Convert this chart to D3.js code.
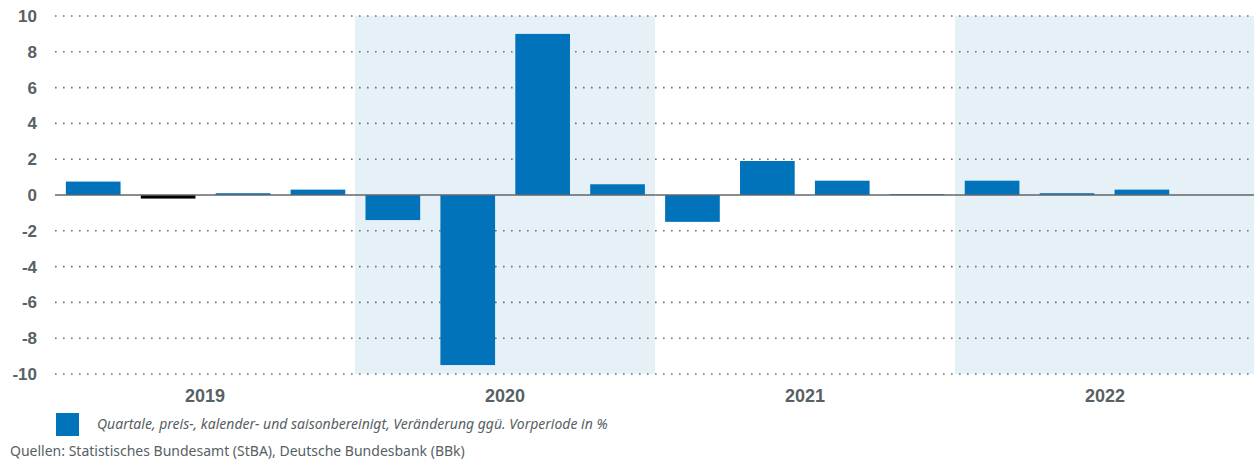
<!DOCTYPE html>
<html>
<head>
<meta charset="utf-8">
<script src="https://cdn.jsdelivr.net/npm/d3@7"></script>
<style>
  body { margin: 0; background: #fff; }
  svg { display: block; font-family: "Noto Sans", "Open Sans", sans-serif; }
</style>
</head>
<body>
<svg id="chart" width="1254" height="461"></svg>
<script>
// data
const years = ["2019", "2020", "2021", "2022"];
const quarters = ["Q1", "Q2", "Q3", "Q4"];
const values = [
  0.75, -0.2, 0.1, 0.3,
  -1.4, -9.5, 9.0, 0.6,
  -1.5, 1.9, 0.8, 0.05,
  0.8, 0.1, 0.3, null
];
const yTicks = [-10, -8, -6, -4, -2, 0, 2, 4, 6, 8, 10];
const shadedYears = ["2020", "2022"];
const highlightIndex = 1; // drawn in black
const legendLabel = "Quartale, preis-, kalender- und saisonbereinigt, Veränderung ggü. Vorperiode in %";
const sourceLabel = "Quellen: Statistisches Bundesamt (StBA), Deutsche Bundesbank (BBk)";

const blue = "#0073bb";
const grey = "#576064";

const svg = d3.select("#chart");
const plotLeft = 55, plotRight = 1255, plotTop = 16, plotBottom = 374;

const data = [];
years.forEach((yr, i) => quarters.forEach((q, j) => {
  data.push({ key: yr + q, year: yr, value: values[i * 4 + j], idx: i * 4 + j });
}));

const xYear = d3.scaleBand().domain(years).range([plotLeft, plotRight]);
const x = d3.scaleBand().domain(data.map(d => d.key)).range([plotLeft, plotRight]).paddingInner(0.27).paddingOuter(0.145);
const y = d3.scaleLinear().domain([-10, 10]).range([plotBottom, plotTop]);

// shaded years
svg.selectAll(".shade")
  .data(shadedYears)
  .enter()
  .append("rect")
  .attr("class", "shade")
  .attr("x", d => xYear(d))
  .attr("y", y(10))
  .attr("width", xYear.bandwidth())
  .attr("height", y(-10) - y(10))
  .style("fill", "#e5f0f7");

// dotted grid
svg.selectAll(".grid")
  .data(yTicks.filter(t => t !== 0))
  .enter()
  .append("line")
  .attr("class", "grid")
  .attr("x1", plotLeft)
  .attr("x2", 1251)
  .attr("y1", d => y(d))
  .attr("y2", d => y(d))
  .style("stroke", "#6a7378")
  .style("stroke-width", 1.6)
  .style("stroke-dasharray", "1.6 6.4");

// y labels (plain hyphen for negatives, like the original)
const yAxis = d3.axisLeft(y).tickValues(yTicks).tickSize(0).tickPadding(0).tickFormat(d => String(d));
const yg = svg.append("g").attr("transform", "translate(37,0)").call(yAxis);
yg.select(".domain").remove();
yg.selectAll("text")
  .style("font-size", "17px")
  .style("font-weight", "700")
  .style("fill", grey);

// bars
svg.selectAll(".bar")
  .data(data.filter(d => d.value !== null))
  .enter()
  .append("rect")
  .attr("class", "bar")
  .attr("x", d => x(d.key))
  .attr("y", d => y(Math.max(0, d.value)))
  .attr("width", x.bandwidth())
  .attr("height", d => Math.abs(y(d.value) - y(0)))
  .style("fill", d => d.idx === highlightIndex ? "#000" : blue);

// zero line
svg.append("line")
  .attr("x1", plotLeft)
  .attr("x2", 1254)
  .attr("y1", y(0))
  .attr("y2", y(0))
  .style("stroke", "#5f676c")
  .style("stroke-width", 1.5);

// year labels
const xAxis = d3.axisBottom(xYear).tickSize(0).tickPadding(0);
const xg = svg.append("g").attr("transform", `translate(0,${plotBottom + 14})`).call(xAxis);
xg.select(".domain").remove();
xg.selectAll("text")
  .attr("dy", "0.75em")
  .style("font-size", "18px")
  .style("font-weight", "700")
  .style("fill", grey);

// legend
svg.append("rect")
  .attr("x", 56)
  .attr("y", 413)
  .attr("width", 23)
  .attr("height", 23)
  .style("fill", blue);
svg.append("text")
  .attr("x", 97)
  .attr("y", 429)
  .text(legendLabel)
  .style("font-size", "14px")
  .style("font-style", "italic")
  .style("fill", grey);

// source
svg.append("text")
  .attr("x", 10)
  .attr("y", 456)
  .text(sourceLabel)
  .style("font-size", "14px")
  .style("fill", grey);
</script>
</body>
</html>
